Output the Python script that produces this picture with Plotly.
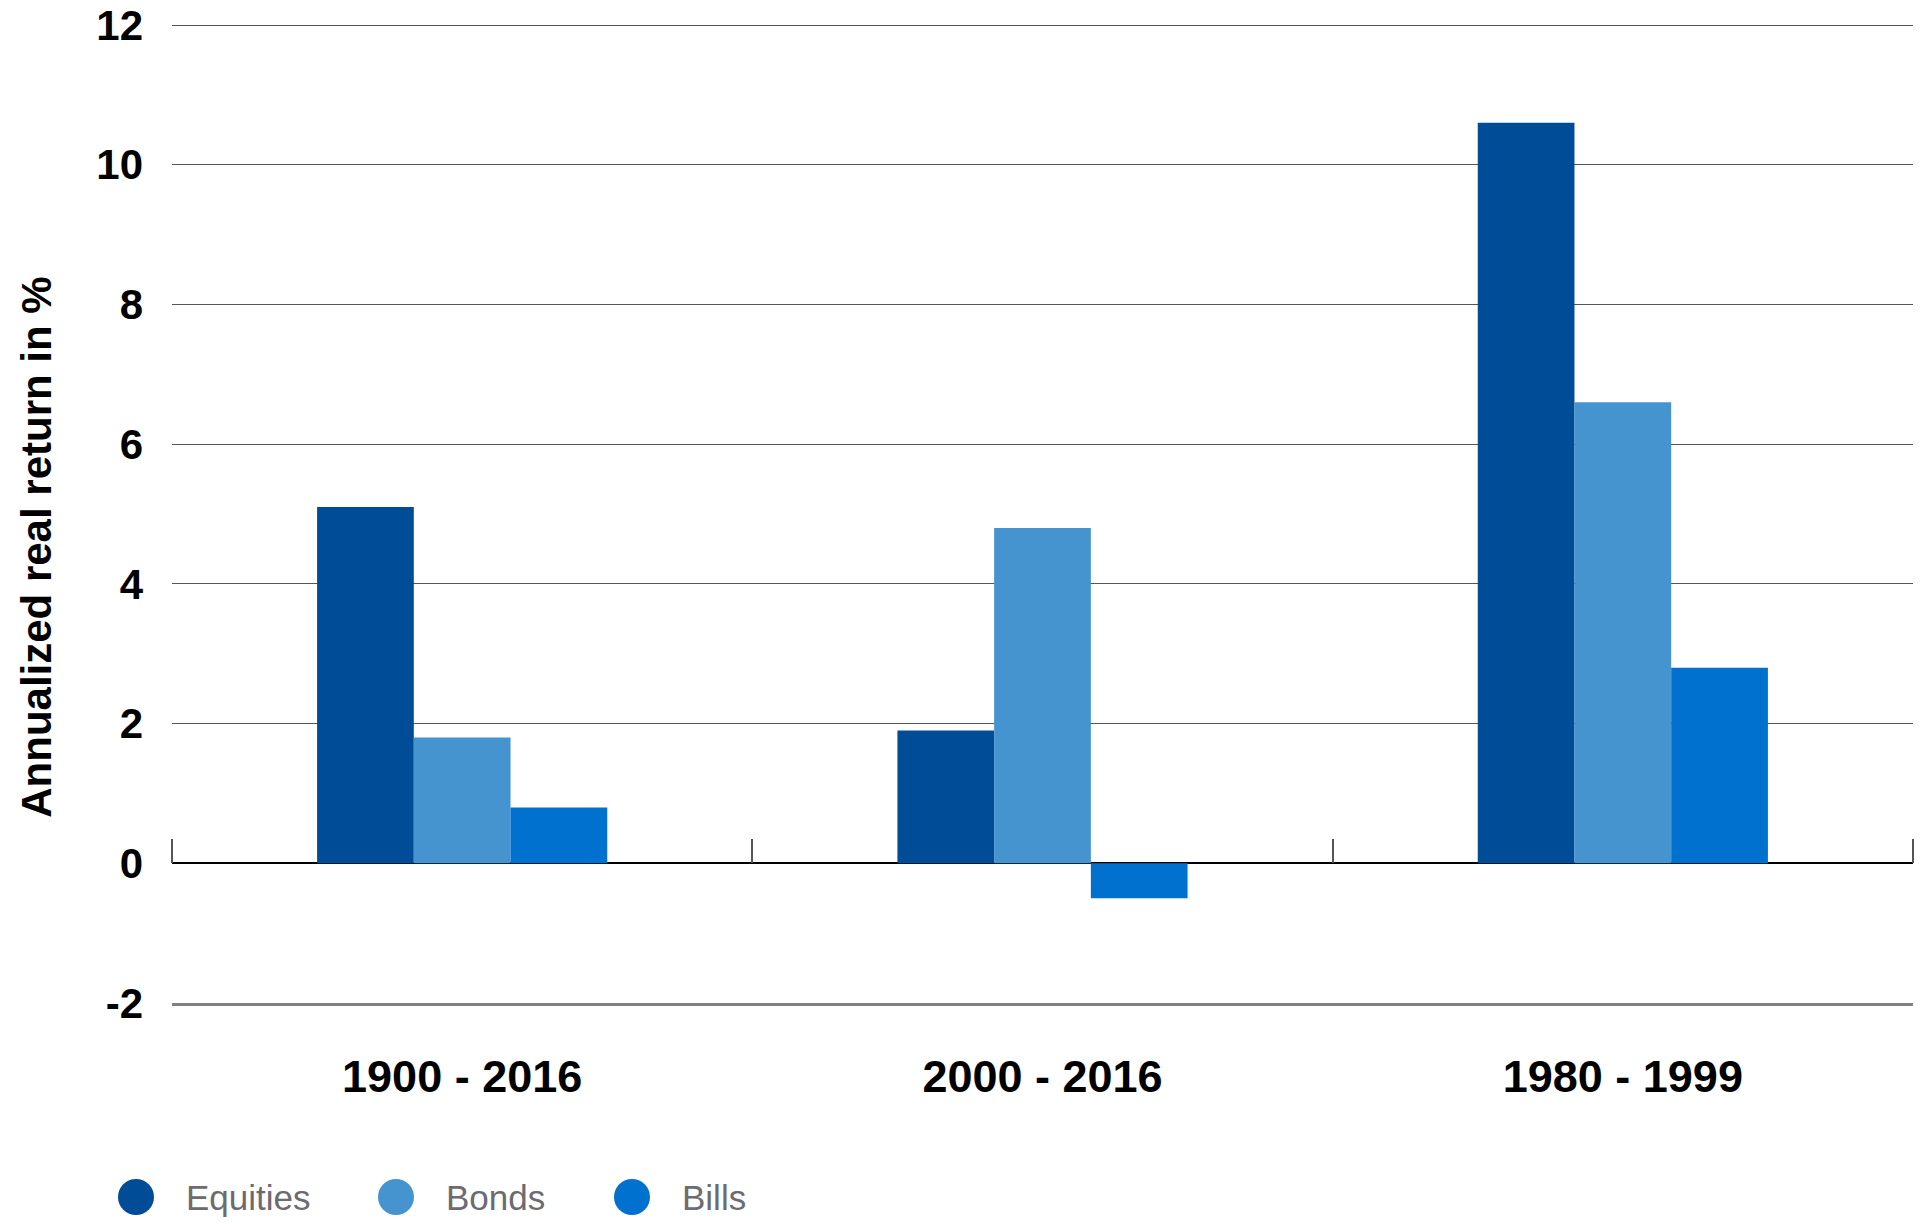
import plotly.graph_objects as go

periods = ["1900 - 2016", "2000 - 2016", "1980 - 1999"]
series_names = ["Equities", "Bonds", "Bills"]
equities = [5.1, 1.9, 10.6]
bonds = [1.8, 4.8, 6.6]
bills = [0.8, -0.5, 2.8]
colors = ["#004C97", "#4594D0", "#0071CE"]
y_ticks = [-2, 0, 2, 4, 6, 8, 10, 12]
y_tick_labels = ["-2", "0", "2", "4", "6", "8", "10", "12"]
y_title = "Annualized real return in %"

series_values = [equities, bonds, bills]
n_cat = len(periods)
boundaries = [i - 0.5 for i in range(n_cat + 1)]

fig = go.Figure()
for name, vals, col in zip(series_names, series_values, colors):
    fig.add_trace(go.Bar(
        x=periods, y=vals, name=name,
        marker=dict(color=col, line=dict(width=0)),
        showlegend=False,
    ))

# invisible helper trace for the divider-tick axis drawn along y = 0
fig.add_trace(go.Scatter(
    x=list(range(n_cat)), y=[0] * n_cat, xaxis="x2", mode="markers",
    marker=dict(opacity=0), showlegend=False, hoverinfo="skip",
))

FONT = "Liberation Sans"
y_min, y_max = -2, 12.015

W, H = 1920, 1224
L, R, T, B = 172, 7, 24, 1224 - 1003
plot_w = W - L - R
plot_h = H - T - B

fig.update_layout(
    width=W, height=H,
    margin=dict(l=L, r=R, t=T, b=B, pad=0, autoexpand=False),
    plot_bgcolor="white", paper_bgcolor="white",
    barmode="group", bargap=0.5, bargroupgap=0,
    font=dict(family=FONT, color="black"),
    xaxis=dict(
        type="category", categoryorder="array", categoryarray=periods,
        range=[-0.5, n_cat - 0.5], automargin=False,
        showgrid=False, zeroline=False,
        showline=True, linecolor="#808080", linewidth=2.5,
        ticks="", ticklabelstandoff=32,
        tickfont=dict(family=FONT, size=45, color="black", weight="bold"),
    ),
    xaxis2=dict(
        type="linear", overlaying="x", anchor="free", side="top",
        position=(0 - y_min) / (y_max - y_min),
        range=[-0.5005, n_cat - 0.4995], automargin=False,
        tickmode="array", tickvals=boundaries,
        showgrid=False, zeroline=False, showline=False,
        ticks="outside", ticklen=24,
        tickcolor="#555555", tickwidth=1.5, showticklabels=False,
    ),
    yaxis=dict(
        range=[y_min, y_max], tickvals=y_ticks, ticktext=y_tick_labels,
        automargin=False, ticklabeloverflow="allow",
        showgrid=True, gridcolor="#555555", gridwidth=1.3,
        zeroline=True, zerolinecolor="black", zerolinewidth=2,
        showline=False, ticks="", ticklabelstandoff=28,
        tickfont=dict(family=FONT, size=42, color="black", weight="bold"),
    ),
)

# rotated y-axis title
fig.add_annotation(
    text=y_title, textangle=-90, xref="paper", yref="paper",
    x=(37 - L) / plot_w, y=0.465,
    xanchor="center", yanchor="middle", showarrow=False,
    font=dict(family=FONT, size=42, color="black", weight="bold"),
)

# custom legend with large circular swatches
legend_circle_px = [136, 396, 632]
legend_y = -(1197 - 1003) / plot_h
for name, col, cx in zip(series_names, colors, legend_circle_px):
    xp = (cx - L) / plot_w
    fig.add_shape(
        type="circle", xref="paper", yref="paper",
        xsizemode="pixel", ysizemode="pixel",
        xanchor=xp, yanchor=legend_y,
        x0=-18, x1=18, y0=-18, y1=18,
        fillcolor=col, line=dict(width=0),
    )
    fig.add_annotation(
        text=name, xref="paper", yref="paper",
        x=(cx + 48 - L) / plot_w, y=legend_y,
        xanchor="left", yanchor="middle", showarrow=False,
        font=dict(family=FONT, size=35, color="#6b6b70"),
    )

fig.write_html(
    "out.html",
    config={"displayModeBar": False},
    post_script="document.body.style.margin='0px';document.body.style.overflow='hidden';",
)
